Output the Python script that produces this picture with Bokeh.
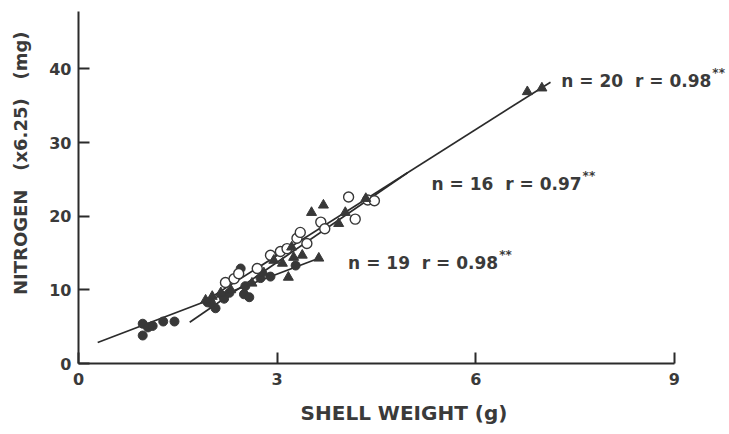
from bokeh.plotting import figure
from bokeh.models import Range1d, FixedTicker, ColumnDataSource
from bokeh.embed import file_html
from bokeh.resources import INLINE
from bokeh.core.properties import value

# ---- data ----
closed_x = [0.97, 1.05, 1.12, 1.28, 1.45, 0.97, 1.95, 2.07, 2.00, 2.18, 2.28, 2.45, 2.50, 2.58, 2.52, 2.75, 2.90, 3.28, 2.20]
closed_y = [5.4, 4.9, 5.1, 5.7, 5.7, 3.8, 8.3, 7.5, 8.2, 9.2, 9.6, 12.9, 9.4, 9.0, 10.5, 11.6, 11.8, 13.3, 8.8]

open_x = [2.22, 2.35, 2.42, 2.70, 2.90, 3.05, 3.15, 3.30, 3.35, 3.45, 3.66, 3.72, 4.08, 4.18, 4.37, 4.47]
open_y = [11.0, 11.5, 12.2, 12.9, 14.7, 15.2, 15.6, 17.0, 17.8, 16.3, 19.2, 18.3, 22.6, 19.6, 22.2, 22.1]

tri_x = [1.92, 2.02, 2.15, 2.30, 2.62, 2.80, 2.95, 3.08, 3.17, 3.22, 3.38, 3.52, 3.63, 3.70, 3.93, 4.03, 4.34, 3.25, 6.78, 7.00]
tri_y = [8.6, 9.1, 9.6, 10.0, 10.9, 12.3, 14.0, 13.6, 11.7, 15.8, 14.7, 20.5, 14.3, 21.5, 19.0, 20.5, 22.4, 14.4, 36.9, 37.4]

fit19_x = [0.29, 3.63]
fit19_y = [2.86, 14.3]
fit16_x = [1.68, 4.97]
fit16_y = [5.6, 25.9]
fit20_x = [1.90, 7.13]
fit20_y = [8.4, 38.2]

x_ticks = [0, 3, 6, 9]
y_ticks = [0, 10, 20, 30, 40]

stat_text = ["n = 20\u00a0\u00a0r = 0.98", "n = 16\u00a0\u00a0r = 0.97", "n = 19\u00a0\u00a0r = 0.98"]
stat_x = [9.56, 7.60, 6.34]     # right end of each label
stat_y = [38.4, 24.4, 13.7]
star_y = [39.4, 25.4, 14.7]

INK = "#2b2b2b"
TXT = "#3a3a3a"
FONT = "DejaVu Sans"

p = figure(width=729, height=434, output_backend="svg", toolbar_location=None,
           x_range=Range1d(0, 9.834), y_range=Range1d(0, 49.29),
           min_border_left=78, min_border_right=0, min_border_top=0, min_border_bottom=71)
p.outline_line_color = None
p.xgrid.visible = False
p.ygrid.visible = False
p.background_fill_color = "white"
p.border_fill_color = "white"

for ax in (p.xaxis[0], p.yaxis[0]):
    ax.axis_line_width = 2
    ax.axis_line_color = INK
    ax.major_tick_line_color = INK
    ax.major_tick_line_width = 2
    ax.major_tick_in = 11
    ax.major_tick_out = 0
    ax.minor_tick_line_color = None
    ax.major_label_text_font = FONT
    ax.major_label_text_font_style = "bold"
    ax.major_label_text_color = TXT
    ax.major_label_text_font_size = "16px"
    ax.axis_label_text_font = FONT
    ax.axis_label_text_font_style = "bold"
    ax.axis_label_text_color = TXT

p.xaxis.ticker = FixedTicker(ticks=x_ticks)
p.yaxis.ticker = FixedTicker(ticks=y_ticks)
p.xaxis.bounds = (0, 9)
p.yaxis.bounds = (0, 47.8)
p.xaxis.major_label_standoff = 9
p.yaxis.major_label_standoff = 7

p.xaxis.axis_label = "SHELL WEIGHT (g)"
p.xaxis.axis_label_text_font_size = "20px"
p.xaxis.axis_label_standoff = 13

p.yaxis.axis_label = "\u00a0" * 6 + "NITROGEN\u00a0\u00a0\u00a0(x6.25)\u00a0\u00a0\u00a0(mg)"
p.yaxis.axis_label_text_font_size = "18px"
p.yaxis.axis_label_standoff = 15

# regression lines
for lx, ly in ((fit19_x, fit19_y), (fit16_x, fit16_y), (fit20_x, fit20_y)):
    p.line(lx, ly, line_color=INK, line_width=1.7)

# points
p.scatter(closed_x, closed_y, marker="circle", size=9, fill_color="#383838", line_color="#383838")
p.scatter(open_x, open_y, marker="circle", size=10, fill_color="white", line_color="#383838", line_width=1.4)
p.scatter(tri_x, tri_y, marker="triangle", size=10, fill_color="#383838", line_color="#383838")

# statistics labels
src = ColumnDataSource(dict(x=stat_x, y=stat_y, t=stat_text))
p.text(x="x", y="y", text="t", source=src, text_font=value(FONT), text_font_style="bold",
       text_font_size="17px", text_color=TXT, text_align="right", text_baseline="middle")
src2 = ColumnDataSource(dict(x=stat_x, y=star_y, t=["**"] * 3))
p.text(x="x", y="y", text="t", source=src2, text_font=value(FONT), text_font_style="bold",
       text_font_size="12px", text_color=TXT, text_align="left", text_baseline="middle",
       x_offset=1)

open("out.html", "w").write(file_html(p, INLINE))
